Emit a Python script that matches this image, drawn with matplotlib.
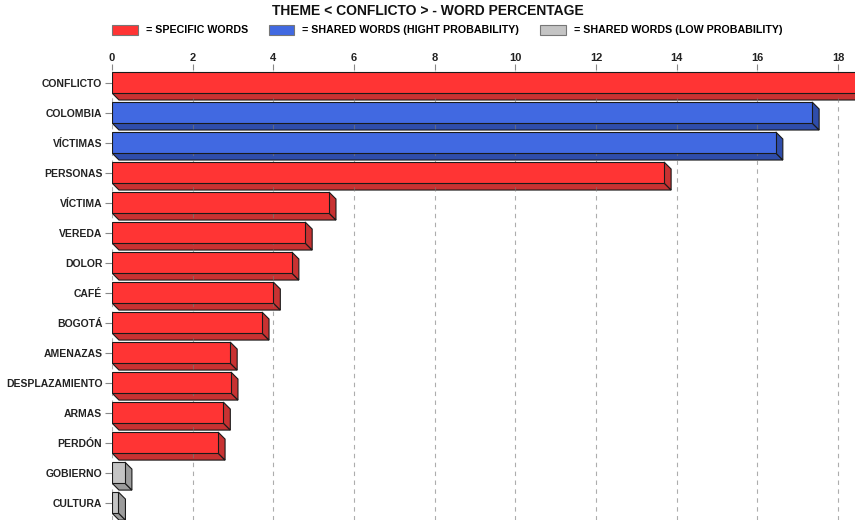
import matplotlib
matplotlib.use("Agg")
import matplotlib.pyplot as plt
from matplotlib.patches import Polygon, Patch

plt.rcParams['font.family'] = ['Liberation Sans', 'DejaVu Sans']

# Word percentages for the theme "CONFLICTO"
words = ["CONFLICTO", "COLOMBIA", "VÍCTIMAS", "PERSONAS", "VÍCTIMA", "VEREDA",
         "DOLOR", "CAFÉ", "BOGOTÁ", "AMENAZAS", "DESPLAZAMIENTO", "ARMAS",
         "PERDÓN", "GOBIERNO", "CULTURA"]
percent = [19.2, 17.36, 16.46, 13.69, 5.38, 4.79, 4.46, 4.0, 3.72, 2.93,
           2.95, 2.76, 2.63, 0.32, 0.16]
# word group: specific / shared-high / shared-low
group = ["specific", "shared_high", "shared_high", "specific", "specific",
         "specific", "specific", "specific", "specific", "specific",
         "specific", "specific", "specific", "shared_low", "shared_low"]
x_ticks = [0, 2, 4, 6, 8, 10, 12, 14, 16, 18]

face = {"specific": "#FF3434", "shared_high": "#4169E1", "shared_low": "#C4C4C4"}
shade = {"specific": "#C83232", "shared_high": "#2F4DAA", "shared_low": "#9C9C9C"}
legend_labels = {"specific": "= SPECIFIC WORDS",
                 "shared_high": "= SHARED WORDS (HIGHT PROBABILITY)",
                 "shared_low": "= SHARED WORDS (LOW PROBABILITY)"}

W, H = 855, 520
fig = plt.figure(figsize=(W / 100, H / 100), dpi=100)
ax_top = 70
ax = fig.add_axes([112 / W, 0, (W - 112) / W, (H - ax_top) / H])

xmax = (W - 112) / 40.33
ax.set_xlim(0, xmax)
ax.set_ylim(len(words) - 1 + 0.58, -(82.5 - ax_top) / 30)

bar_h = 0.70
dx = 7 / 40.33      # depth of the extruded face, x data units
dy = 7 / 30.0       # depth of the extruded face, y data units
ypos = list(range(len(words)))

for y, v, g in zip(ypos, percent, group):
    top, bot = y - bar_h / 2, y + bar_h / 2
    # bottom face
    ax.add_patch(Polygon([(0, bot), (v, bot), (v + dx, bot + dy), (dx, bot + dy)],
                         closed=True, facecolor=shade[g], edgecolor="#1a1a1a",
                         lw=0.8, zorder=2))
    # right face
    ax.add_patch(Polygon([(v, top), (v + dx, top + dy), (v + dx, bot + dy), (v, bot)],
                         closed=True, facecolor=shade[g], edgecolor="#1a1a1a",
                         lw=0.8, zorder=2))
# front faces
ax.barh(ypos, percent, height=bar_h, color=[face[g] for g in group],
        edgecolor="#1a1a1a", linewidth=0.8, zorder=3)

ax.set_yticks(ypos)
ax.set_yticklabels(words, fontsize=7.5, fontweight="bold", color="#222222")
ax.set_xticks(x_ticks)
ax.set_xticklabels([str(t) for t in x_ticks], fontsize=8, fontweight="bold",
                   color="#222222")
ax.xaxis.tick_top()
ax.tick_params(axis="x", which="major", length=4, color="#888888", pad=1)
ax.tick_params(axis="y", length=5, color="#888888", pad=2)
for s in ax.spines.values():
    s.set_visible(False)

ax.grid(axis="x", which="major", linestyle=(0, (4, 4)), color="#777777",
        linewidth=0.8, alpha=0.6, zorder=4)
ax.set_axisbelow(False)

fig.text(0.5, 1 - 11 / H, "THEME < CONFLICTO > - WORD PERCENTAGE",
         ha="center", va="center", fontsize=10, fontweight="bold",
         color="#111111")

handles = [Patch(facecolor=face[k], edgecolor="#777777", linewidth=0.8,
                 label=legend_labels[k])
           for k in ["specific", "shared_high", "shared_low"]]
fig.legend(handles=handles, loc="center left",
           bbox_to_anchor=(112 / W, 1 - 30 / H), ncol=3, frameon=False,
           prop={"size": 7.7, "weight": "bold"}, handlelength=2.4,
           handleheight=1.1, handletextpad=0.75, columnspacing=1.95,
           borderaxespad=0, borderpad=0)

fig.savefig("out.png", dpi=100)
